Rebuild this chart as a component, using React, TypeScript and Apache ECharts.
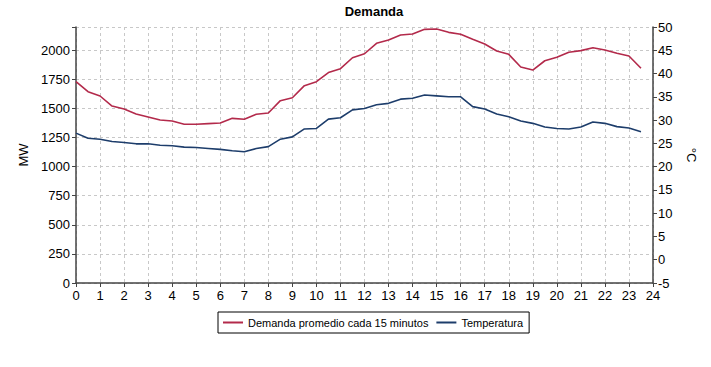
import React, { useEffect, useRef } from "react";
import * as echarts from "echarts";

const hours = [0,0.5,1,1.5,2,2.5,3,3.5,4,4.5,5,5.5,6,6.5,7,7.5,8,8.5,9,9.5,10,10.5,11,11.5,12,12.5,13,13.5,14,14.5,15,15.5,16,16.5,17,17.5,18,18.5,19,19.5,20,20.5,21,21.5,22,22.5,23,23.5];
const demanda = [1730,1644,1607,1521,1495,1452,1427,1401,1392,1364,1364,1370,1375,1415,1407,1450,1461,1567,1592,1696,1730,1808,1842,1936,1970,2060,2088,2131,2140,2180,2183,2154,2137,2094,2054,1994,1965,1856,1830,1910,1940,1983,1997,2022,2002,1974,1951,1845];
const temperatura = [27.2,26.1,25.9,25.4,25.2,24.9,24.9,24.6,24.5,24.2,24.1,23.9,23.7,23.4,23.2,23.9,24.3,25.9,26.4,28.1,28.2,30.2,30.5,32.2,32.5,33.3,33.6,34.5,34.7,35.4,35.2,35.0,35.0,32.9,32.4,31.3,30.7,29.8,29.3,28.5,28.2,28.1,28.5,29.6,29.3,28.6,28.3,27.5];

const FONT = "'Liberation Sans', Arial, sans-serif";

export default function App() {
  const ref = useRef<HTMLDivElement>(null);
  useEffect(() => {
    if (!ref.current) return;
    const chart = echarts.init(ref.current, undefined, { renderer: "svg" });
    const gridLine = { show: true, lineStyle: { color: "#c8c8c8", type: [3, 3] as any, width: 1 } };
    chart.setOption({
      animation: false,
      backgroundColor: "#ffffff",
      textStyle: { fontFamily: FONT },
      title: {
        text: "Demanda",
        left: 369,
        textAlign: "center",
        top: 0,
        textStyle: { fontFamily: FONT, fontSize: 13, fontWeight: "bold", color: "#000" },
      },
      legend: {
        top: 312,
        left: 218,
        padding: [5, 6, 5, 5],
        borderColor: "#000",
        borderWidth: 1,
        itemWidth: 20,
        itemHeight: 2,
        itemGap: 8,
        icon: "rect",
        textStyle: { fontFamily: FONT, fontSize: 11, color: "#000" },
        data: ["Demanda promedio cada 15 minutos", "Temperatura"],
      },
      grid: { left: 76, right: 58, top: 27, bottom: 84, containLabel: false },
      xAxis: {
        type: "value",
        min: 0,
        max: 24,
        interval: 1,
        axisLine: { show: true, lineStyle: { color: "#444", width: 1.5 } },
        axisTick: { show: true, length: 4, lineStyle: { color: "#444" } },
        axisLabel: { color: "#000", fontSize: 13, fontFamily: FONT, margin: 6 },
        splitLine: gridLine,
      },
      yAxis: [
        {
          type: "value",
          min: 0,
          max: 2200,
          interval: 250,
          name: "MW",
          nameLocation: "middle",
          nameGap: 46,
          nameTextStyle: { fontSize: 13, fontFamily: FONT, color: "#000" },
          axisLine: { show: true, lineStyle: { color: "#444", width: 1.5 } },
          axisTick: { show: true, length: 4, lineStyle: { color: "#444" } },
          axisLabel: {
            color: "#000", fontSize: 13, fontFamily: FONT, margin: 6,
            formatter: (v: number) => (v > 2000 ? "" : String(v)),
          },
          splitLine: gridLine,
        },
        {
          type: "value",
          min: -5,
          max: 50,
          interval: 5,
          position: "right",
          name: "°C",
          nameLocation: "middle",
          nameRotate: -90,
          nameGap: 32,
          nameTextStyle: { fontSize: 13, fontFamily: FONT, color: "#000" },
          axisLine: { show: true, lineStyle: { color: "#444", width: 1.5 } },
          axisTick: { show: true, length: 4, lineStyle: { color: "#444" } },
          axisLabel: { color: "#000", fontSize: 13, fontFamily: FONT, margin: 5 },
          splitLine: { show: false },
        },
      ],
      series: [
        {
          name: "Demanda promedio cada 15 minutos",
          type: "line",
          yAxisIndex: 0,
          showSymbol: false,
          symbol: "none",
          color: "#b32a4b",
          lineStyle: { width: 1.6, color: "#b32a4b" },
          data: hours.map((h, i) => [h, demanda[i]]),
        },
        {
          name: "Temperatura",
          type: "line",
          yAxisIndex: 1,
          showSymbol: false,
          symbol: "none",
          color: "#1d3d6b",
          lineStyle: { width: 1.6, color: "#1d3d6b" },
          data: hours.map((h, i) => [h, temperatura[i]]),
        },
      ],
    });
    return () => chart.dispose();
  }, []);
  return (
    <div
      ref={ref}
      style={{ position: "fixed", left: 0, top: 0, width: 711, height: 367, background: "#fff" }}
    />
  );
}
